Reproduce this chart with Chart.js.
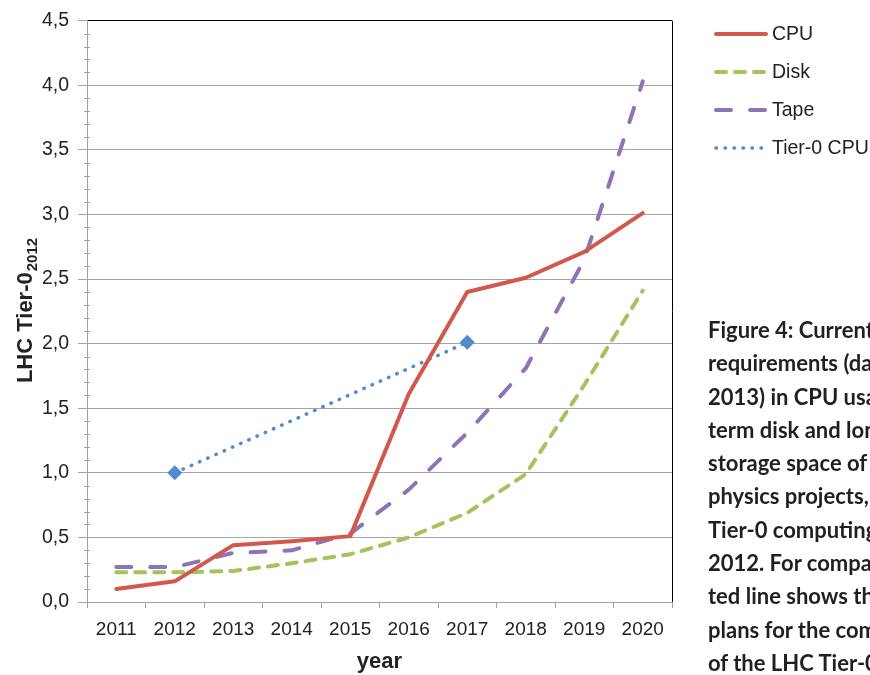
<!DOCTYPE html>
<html>
<head>
<meta charset="utf-8">
<script src="https://cdn.jsdelivr.net/npm/chart.js@4.4.1/dist/chart.umd.min.js"></script>
<style>
  body { margin: 0; background: #fff; overflow: hidden; }
  #wrap { position: relative; width: 870px; height: 675px; overflow: hidden; }
  #caption {
    position: absolute; left: 708px; top: 313px;
    font: bold 22px Lato, "Open Sans", sans-serif; line-height: 33.3px;
    color: #231f20; white-space: nowrap;
  }
</style>
</head>
<body>
<div id="wrap">
  <canvas id="chart" width="870" height="675"></canvas>
  <div id="caption">
    Figure 4: Current<br>
    requirements (dated<br>
    2013) in CPU usage, short-<br>
    term disk and long-term tape<br>
    storage space of the LHC<br>
    physics projects, in units of<br>
    Tier-0 computing capacity in<br>
    2012. For comparison, the dot-<br>
    ted line shows the current<br>
    plans for the computing capacity<br>
    of the LHC Tier-0
  </div>
</div>
<script>
const years = ['2011', '2012', '2013', '2014', '2015', '2016', '2017', '2018', '2019', '2020'];
const cpu   = [0.10, 0.16, 0.44, 0.47, 0.51, 1.61, 2.40, 2.51, 2.71, 3.01];
const disk  = [0.23, 0.23, 0.24, 0.30, 0.37, 0.50, 0.69, 0.99, 1.68, 2.41];
const tape  = [0.27, 0.27, 0.38, 0.40, 0.53, 0.87, 1.31, 1.81, 2.65, 4.03];
const tier0 = [null, 1.00, null, null, null, null, 2.01, null, null, null];

const yMin = 0;
const yMax = 4.5;
const yStep = 0.5;

const textColor = '#222';
const axisGray = '#a0a0a0';

// y axis title with the subscript 2012
const yTitlePlugin = {
    id: 'yTitle',
    afterDraw(chart) {
        const ctx = chart.ctx;
        const main = 'LHC Tier-0';
        const sub = '2012';
        ctx.save();
        ctx.translate(25, 311);
        ctx.rotate(-Math.PI / 2);
        ctx.fillStyle = textColor;
        ctx.textBaseline = 'alphabetic';
        ctx.font = 'bold 22px "Liberation Sans", Arial';
        const w1 = ctx.measureText(main).width;
        ctx.font = 'bold 15px "Liberation Sans", Arial';
        const w2 = ctx.measureText(sub).width;
        const start = -(w1 + w2) / 2;
        ctx.font = 'bold 22px "Liberation Sans", Arial';
        ctx.fillText(main, start, 7);
        ctx.font = 'bold 15px "Liberation Sans", Arial';
        ctx.fillText(sub, start + w1 + 1, 12);
        ctx.restore();
    }
};

// small minor ticks on the y axis
const minorTicksPlugin = {
    id: 'minorTicks',
    afterDraw(chart) {
        const y = chart.scales.y;
        const ctx = chart.ctx;
        const x0 = chart.chartArea.left;
        ctx.save();
        ctx.strokeStyle = axisGray;
        ctx.lineWidth = 1;
        for (let i = 0; i <= Math.round((yMax - yMin) * 10); i++) {
            if (i % 5 === 0) continue;
            const py = Math.round(y.getPixelForValue(yMin + i / 10)) + 0.5;
            ctx.beginPath();
            ctx.moveTo(x0 - 3, py);
            ctx.lineTo(x0 + 3, py);
            ctx.stroke();
        }
        ctx.restore();
    }
};

// legend on the right, one line sample per dataset
const sideLegendPlugin = {
    id: 'sideLegend',
    afterDraw(chart) {
        const ctx = chart.ctx;
        chart.data.datasets.forEach((ds, i) => {
            const y = 34 + i * 38;
            ctx.save();
            ctx.strokeStyle = ds.borderColor;
            ctx.lineWidth = ds.borderWidth;
            ctx.lineCap = 'round';
            ctx.setLineDash(ds.borderDash || []);
            ctx.beginPath();
            ctx.moveTo(716, y);
            ctx.lineTo(766, y);
            ctx.stroke();
            ctx.setLineDash([]);
            ctx.fillStyle = textColor;
            ctx.font = '19.5px "Liberation Sans", Arial';
            ctx.textBaseline = 'middle';
            ctx.fillText(ds.label, 772, y + 1);
            ctx.restore();
        });
    }
};

function renderChart() {
    const ctx = document.getElementById('chart').getContext('2d');

    new Chart(ctx, {
        type: 'line',
        data: {
            labels: years,
            datasets: [
                {
                    label: 'CPU',
                    data: cpu,
                    borderColor: '#d3584c',
                    borderWidth: 4,
                    pointRadius: 0,
                    borderCapStyle: 'round',
                    borderJoinStyle: 'round'
                },
                {
                    label: 'Disk',
                    data: disk,
                    borderColor: '#a2c45c',
                    borderWidth: 4,
                    borderDash: [10, 9],
                    pointRadius: 0,
                    borderCapStyle: 'round',
                    borderJoinStyle: 'round'
                },
                {
                    label: 'Tape',
                    data: tape,
                    borderColor: '#8e73b6',
                    borderWidth: 4,
                    borderDash: [15, 19],
                    pointRadius: 0,
                    borderCapStyle: 'round',
                    borderJoinStyle: 'round'
                },
                {
                    label: 'Tier-0 CPU',
                    data: tier0,
                    borderColor: '#4f8ccb',
                    backgroundColor: '#4f8ccb',
                    borderWidth: 3.5,
                    borderDash: [0.5, 8.5],
                    borderCapStyle: 'round',
                    spanGaps: true,
                    pointStyle: 'rectRot',
                    pointRadius: 7.5,
                    pointBorderWidth: 0,
                    pointBackgroundColor: '#4f8ccb'
                }
            ]
        },
        options: {
            responsive: false,
            animation: false,
            layout: {
                padding: { left: 0, top: 20, right: 198, bottom: 0 }
            },
            elements: { line: { tension: 0 } },
            plugins: {
                legend: { display: false },
                tooltip: { enabled: false }
            },
            scales: {
                x: {
                    offset: true,
                    grid: {
                        offset: true,
                        // only the right frame line is drawn inside the plot
                        color: c => c.type === 'scale' ? '#000' : 'rgba(0,0,0,0)',
                        tickColor: axisGray,
                        tickLength: 6
                    },
                    border: { color: axisGray, width: 1 },
                    ticks: {
                        color: textColor,
                        font: { size: 19, family: '"Liberation Sans", Arial' },
                        padding: 10,
                        maxRotation: 0,
                        autoSkip: false
                    },
                    title: {
                        display: true,
                        text: 'year',
                        color: textColor,
                        font: { size: 22, weight: 'bold', family: '"Liberation Sans", Arial' },
                        padding: 0
                    },
                    afterFit: s => { s.height = 73; }
                },
                y: {
                    min: yMin,
                    max: yMax,
                    grid: {
                        color: c => (c.tick && Math.abs(c.tick.value - yMax) < 1e-9) ? '#000' : '#a6a6a6',
                        tickColor: axisGray,
                        tickLength: 9
                    },
                    border: { color: axisGray, width: 1 },
                    ticks: {
                        stepSize: yStep,
                        color: textColor,
                        font: { size: 19.5, family: '"Liberation Sans", Arial' },
                        padding: 9,
                        callback: v => v.toFixed(1).replace('.', ',')
                    },
                    afterFit: s => { s.width = 87; }
                }
            }
        },
        plugins: [yTitlePlugin, minorTicksPlugin, sideLegendPlugin]
    });
}

renderChart();
</script>
</body>
</html>
